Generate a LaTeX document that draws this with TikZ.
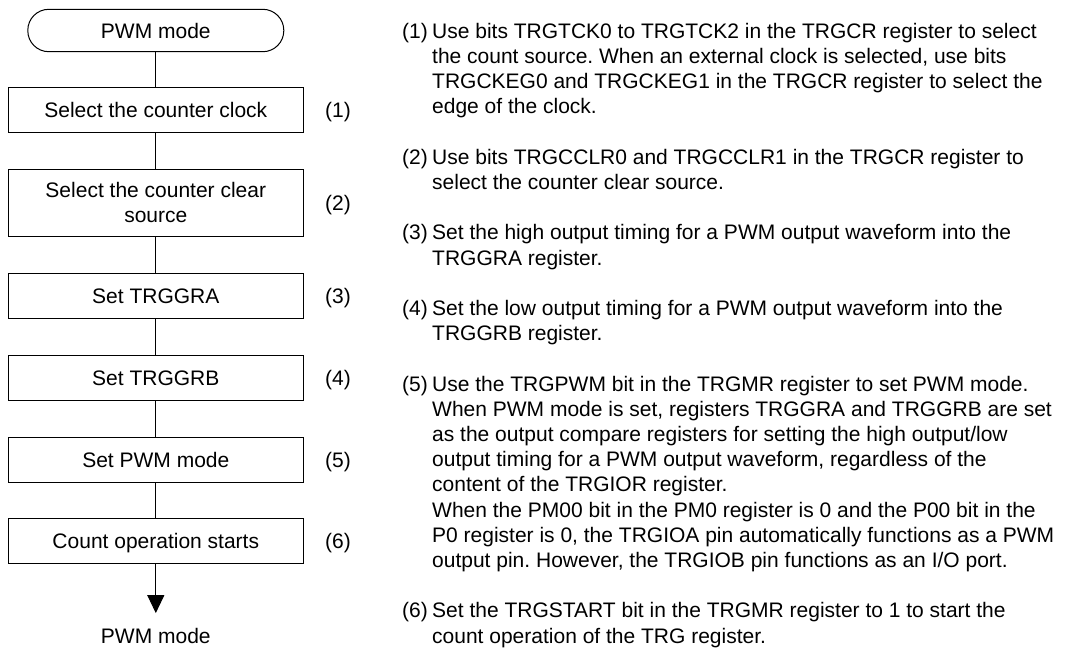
\documentclass[tikz,border=0pt]{standalone}
\usepackage{fontspec}
\setmainfont{Liberation Sans}
\usetikzlibrary{arrows.meta}
\frenchspacing
\begin{document}
\begin{tikzpicture}[x=1pt,y=-1pt,
  every node/.style={font=\fontsize{21}{25.2}\selectfont\frenchspacing, inner sep=0pt},
  box/.style={draw, line width=1pt, minimum width=295pt},
  one/.style={text height=15pt, text depth=0pt},
  termbox/.style={draw, line width=1pt, rounded corners=21pt, minimum width=256pt, minimum height=42.4pt, text height=15pt, text depth=0pt},
  flow/.style={line width=1pt},
  num/.style={anchor=base west},
  desc/.style={anchor=base west},
]
\useasboundingbox (0,0) rectangle (1071,654);

% flowchart
\node[termbox] (start) at (155.8,30.5) {PWM mode};
\node[box, one, minimum height=45pt] (s1) at (155.8,110.2) {Select the counter clock};
\node[box, minimum height=67pt, align=center] (s2) at (155.8,202.5) {Select the counter clear\\source};
\node[box, one, minimum height=45pt] (s3) at (155.8,295.8) {Set TRGGRA};
\node[box, one, minimum height=45pt] (s4) at (155.8,377.5) {Set TRGGRB};
\node[box, one, minimum height=45pt] (s5) at (155.8,460) {Set PWM mode};
\node[box, one, minimum height=45pt] (s6) at (155.8,540.8) {Count operation starts};
\node[one] (endl) at (155.8,635.5) {PWM mode};

\draw[flow] (start) -- (s1);
\draw[flow] (s1) -- (s2);
\draw[flow] (s2) -- (s3);
\draw[flow] (s3) -- (s4);
\draw[flow] (s4) -- (s5);
\draw[flow] (s5) -- (s6);
\draw[flow, -{Triangle[length=18pt,width=17pt]}, shorten >=14.7pt] (s6) -- (endl);

\node[num] (l1) at (325,117.5) {(1)};
\node[num] (l2) at (325,210) {(2)};
\node[num] (l3) at (325,303.3) {(3)};
\node[num] (l4) at (325,385) {(4)};
\node[num] (l5) at (325,467.5) {(5)};
\node[num] (l6) at (325,548.3) {(6)};

% descriptions
\node[num] (n1) at (402,38.3) {(1)};
\node[desc] (d1) at (432,38.3) {\begin{tabular}[t]{@{}l@{}}
Use bits TRGTCK0 to TRGTCK2 in the TRGCR register to select\\
the count source. When an external clock is selected, use bits\\
TRGCKEG0 and TRGCKEG1 in the TRGCR register to select the\\
edge of the clock.\end{tabular}};

\node[num] (n2) at (402,164.3) {(2)};
\node[desc] (d2) at (432,164.3) {\begin{tabular}[t]{@{}l@{}}
Use bits TRGCCLR0 and TRGCCLR1 in the TRGCR register to\\
select the counter clear source.\end{tabular}};

\node[num] (n3) at (402,239.9) {(3)};
\node[desc] (d3) at (432,239.9) {\begin{tabular}[t]{@{}l@{}}
Set the high output timing for a PWM output waveform into the\\
TRGGRA register.\end{tabular}};

\node[num] (n4) at (402,315.5) {(4)};
\node[desc] (d4) at (432,315.5) {\begin{tabular}[t]{@{}l@{}}
Set the low output timing for a PWM output waveform into the\\
TRGGRB register.\end{tabular}};

\node[num] (n5) at (402,391.1) {(5)};
\node[desc] (d5) at (432,391.1) {\begin{tabular}[t]{@{}l@{}}
Use the TRGPWM bit in the TRGMR register to set PWM mode.\\
When PWM mode is set, registers TRGGRA and TRGGRB are set\\
as the output compare registers for setting the high output/low\\
output timing for a PWM output waveform, regardless of the\\
content of the TRGIOR register.\\
When the PM00 bit in the PM0 register is 0 and the P00 bit in the\\
P0 register is 0, the TRGIOA pin automatically functions as a PWM\\
output pin. However, the TRGIOB pin functions as an I/O port.\end{tabular}};

\node[num] (n6) at (402,617.9) {(6)};
\node[desc] (d6) at (432,617.9) {\begin{tabular}[t]{@{}l@{}}
Set the TRGSTART bit in the TRGMR register to 1 to start the\\
count operation of the TRG register.\end{tabular}};
\end{tikzpicture}
\end{document}
